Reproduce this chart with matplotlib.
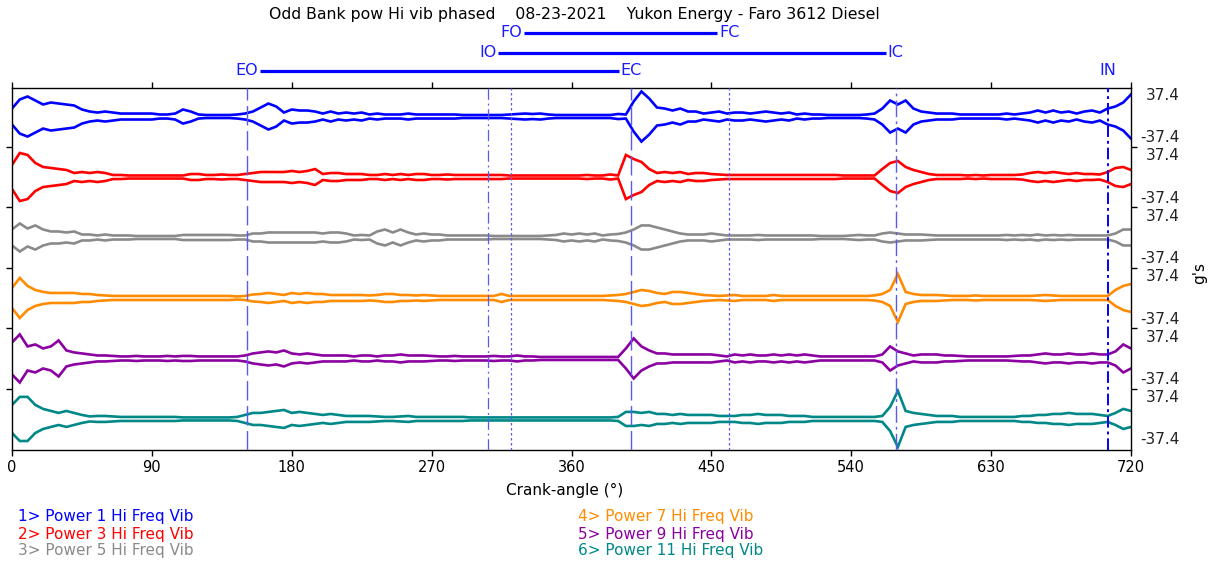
import numpy as np
import matplotlib
matplotlib.use("Agg")
import matplotlib.pyplot as plt
from matplotlib.transforms import blended_transform_factory

plt.rcParams['font.family'] = ['DejaVu Sans']

# ---------------- data ----------------
title = "Odd Bank pow Hi vib phased    08-23-2021    Yukon Energy - Faro 3612 Diesel"
xlabel = "Crank-angle (°)"
ylabel = "g's"
scale_label = 37.4

deg = np.arange(0, 721, 5)

ch1_amp = [14.2, 30.3, 35.6, 28.5, 21.4, 24.9, 23.1, 21.4, 19.6, 12.5,
           8.9, 7.1, 8.9, 7.1, 5.3, 5.3, 5.3, 5.3, 5.3, 3.6,
           3.6, 5.3, 12.5, 8.9, 3.6, 2.7, 2.7, 2.7, 2.7, 3.6,
           5.3, 8.9, 16.0, 23.1, 17.8, 7.1, 12.5, 10.7, 10.7, 8.9,
           5.3, 8.9, 5.3, 7.1, 5.3, 7.1, 3.6, 5.3, 3.6, 3.6,
           3.6, 5.3, 3.6, 3.6, 3.6, 3.6, 3.6, 3.6, 2.7, 2.7,
           2.7, 2.7, 2.7, 2.7, 3.6, 4.5, 5.3, 4.5, 5.3, 3.6,
           2.7, 2.7, 2.7, 2.7, 2.7, 2.7, 2.7, 2.7, 4.5, 3.6,
           26.7, 44.5, 32.0, 16.0, 14.2, 10.7, 14.2, 8.9, 8.9, 5.3,
           7.1, 8.9, 5.3, 7.1, 7.1, 5.3, 7.1, 8.9, 7.1, 5.3,
           7.1, 3.6, 5.3, 3.6, 3.6, 2.7, 2.7, 2.7, 2.7, 2.7,
           3.6, 5.3, 14.2, 28.5, 21.4, 28.5, 14.2, 8.9, 7.1, 5.3,
           5.3, 5.3, 3.6, 3.6, 3.6, 3.6, 3.6, 3.6, 5.3, 3.6,
           5.3, 7.1, 10.7, 7.1, 10.7, 7.1, 8.9, 5.3, 8.9, 10.7,
           7.1, 14.2, 17.8, 24.9, 39.2]

ch2_amp = [21.4, 42.7, 39.2, 24.9, 17.8, 16.0, 14.2, 12.5, 7.1, 8.9,
           7.1, 8.9, 7.1, 3.6, 3.6, 2.7, 2.7, 2.7, 2.7, 2.7,
           2.7, 2.7, 2.7, 5.3, 5.3, 3.6, 3.6, 4.5, 3.6, 3.6,
           5.3, 7.1, 8.9, 8.9, 8.9, 8.9, 10.7, 8.9, 10.7, 14.2,
           5.3, 7.1, 7.1, 5.3, 5.3, 5.3, 3.6, 3.6, 5.3, 3.6,
           5.3, 3.6, 5.3, 5.3, 3.6, 3.6, 4.5, 3.6, 3.6, 3.6,
           3.6, 3.6, 3.6, 3.6, 2.7, 2.7, 2.7, 2.7, 2.7, 2.7,
           2.7, 2.7, 2.7, 2.7, 3.6, 2.7, 2.7, 4.5, 2.7, 39.2,
           32.0, 26.7, 14.2, 7.1, 8.9, 7.1, 8.9, 5.3, 7.1, 7.1,
           5.3, 4.5, 3.6, 3.6, 3.6, 3.6, 3.6, 3.6, 3.6, 3.6,
           3.6, 3.6, 3.6, 3.6, 3.6, 3.6, 3.6, 2.7, 2.7, 2.7,
           2.7, 2.7, 14.2, 24.9, 28.5, 17.8, 12.5, 8.9, 5.3, 3.6,
           3.6, 3.6, 3.6, 2.7, 3.6, 2.7, 3.6, 3.6, 3.6, 3.6,
           4.5, 7.1, 8.9, 7.1, 8.9, 7.1, 5.3, 7.1, 5.3, 5.3,
           4.5, 8.9, 16.0, 17.8, 12.5]

ch3_amp = [14.2, 24.9, 16.0, 21.4, 14.2, 10.7, 10.7, 8.9, 10.7, 5.3,
           5.3, 3.6, 5.3, 3.6, 3.6, 3.6, 2.7, 2.7, 2.7, 2.7,
           2.7, 2.7, 4.5, 4.5, 4.5, 4.5, 4.5, 4.5, 4.5, 3.6,
           3.6, 7.1, 7.1, 8.9, 8.9, 8.9, 8.9, 8.9, 8.9, 8.9,
           7.1, 8.9, 8.9, 7.1, 3.6, 4.5, 3.6, 10.7, 14.2, 8.9,
           14.2, 8.9, 5.3, 7.1, 5.3, 5.3, 3.6, 3.6, 3.6, 3.6,
           3.6, 3.6, 2.7, 2.7, 2.7, 2.7, 2.7, 2.7, 2.7, 3.6,
           4.5, 7.1, 5.3, 7.1, 5.3, 7.1, 3.6, 5.3, 6.2, 8.9,
           14.2, 21.4, 21.4, 17.8, 14.2, 10.7, 7.1, 5.3, 5.3, 5.3,
           7.1, 5.3, 3.6, 3.6, 3.6, 3.6, 4.5, 3.6, 3.6, 3.6,
           3.6, 3.6, 3.6, 3.6, 2.7, 2.7, 2.7, 2.7, 3.6, 4.5,
           3.6, 3.6, 7.1, 8.9, 7.1, 5.3, 5.3, 5.3, 4.5, 3.6,
           3.6, 3.6, 3.6, 3.6, 3.6, 3.6, 3.6, 3.6, 4.5, 3.6,
           4.5, 3.6, 5.3, 3.6, 4.5, 3.6, 4.5, 3.6, 3.6, 3.6,
           3.6, 3.6, 7.1, 14.2, 14.2]

ch4_amp = [17.8, 35.6, 21.4, 14.2, 10.7, 8.9, 8.9, 8.9, 8.9, 7.1,
           7.1, 5.3, 4.5, 3.6, 3.6, 3.6, 3.6, 3.6, 3.6, 3.6,
           3.6, 3.6, 3.6, 3.6, 3.6, 3.6, 3.6, 3.6, 3.6, 2.7,
           3.6, 6.2, 7.1, 8.9, 7.1, 5.3, 8.9, 7.1, 8.9, 7.1,
           7.1, 5.3, 5.3, 5.3, 5.3, 5.3, 4.5, 5.3, 7.1, 7.1,
           5.3, 5.3, 4.5, 5.3, 4.5, 3.6, 3.6, 3.6, 3.6, 3.6,
           3.6, 3.6, 3.6, 7.1, 3.6, 3.6, 3.6, 3.6, 3.6, 3.6,
           3.6, 3.6, 3.6, 3.6, 3.6, 3.6, 3.6, 4.5, 5.3, 7.1,
           10.7, 14.2, 12.5, 8.9, 7.1, 10.7, 10.7, 8.9, 7.1, 5.3,
           4.5, 3.6, 4.5, 5.3, 3.6, 3.6, 3.6, 3.6, 5.3, 3.6,
           3.6, 3.6, 3.6, 3.6, 3.6, 3.6, 3.6, 3.6, 3.6, 3.6,
           3.6, 4.5, 7.1, 14.2, 42.7, 10.7, 7.1, 5.3, 5.3, 5.3,
           4.5, 3.6, 3.6, 3.6, 4.5, 3.6, 3.6, 3.6, 3.6, 3.6,
           3.6, 3.6, 4.5, 5.3, 4.5, 3.6, 3.6, 3.6, 3.6, 3.6,
           3.6, 3.6, 14.2, 21.4, 24.9]

ch5_amp = [28.5, 42.7, 21.4, 24.9, 17.8, 21.4, 32.0, 14.2, 10.7, 8.9,
           7.1, 5.3, 5.3, 4.5, 3.6, 3.6, 4.5, 3.6, 3.6, 3.6,
           4.5, 3.6, 4.5, 4.5, 3.6, 3.6, 3.6, 3.6, 3.6, 3.6,
           5.3, 8.9, 10.7, 12.5, 10.7, 14.2, 8.9, 7.1, 8.9, 7.1,
           5.3, 5.3, 5.3, 5.3, 3.6, 5.3, 5.3, 3.6, 5.3, 5.3,
           7.1, 5.3, 5.3, 5.3, 4.5, 3.6, 3.6, 4.5, 3.6, 3.6,
           3.6, 3.6, 4.5, 3.6, 3.6, 5.3, 3.6, 3.6, 2.7, 2.7,
           2.7, 2.7, 2.7, 2.7, 2.7, 2.7, 2.7, 2.7, 2.7, 17.8,
           35.6, 21.4, 14.2, 8.9, 8.9, 7.1, 7.1, 7.1, 7.1, 7.1,
           7.1, 5.3, 3.6, 7.1, 5.3, 7.1, 5.3, 5.3, 7.1, 5.3,
           7.1, 5.3, 7.1, 5.3, 3.6, 3.6, 3.6, 3.6, 3.6, 3.6,
           3.6, 3.6, 7.1, 21.4, 12.5, 8.9, 5.3, 7.1, 7.1, 7.1,
           5.3, 5.3, 4.5, 3.6, 3.6, 3.6, 3.6, 3.6, 3.6, 4.5,
           5.3, 5.3, 7.1, 8.9, 7.1, 7.1, 8.9, 7.1, 7.1, 8.9,
           7.1, 7.1, 12.5, 24.9, 17.8]

ch6_amp = [24.9, 39.2, 39.2, 24.9, 17.8, 14.2, 10.7, 14.2, 10.7, 7.1,
           4.5, 5.3, 5.3, 4.5, 3.6, 3.6, 3.6, 3.6, 3.6, 3.6,
           3.6, 3.6, 2.7, 2.7, 2.7, 2.7, 2.7, 2.7, 2.7, 3.6,
           7.1, 10.7, 10.7, 12.5, 14.2, 16.0, 10.7, 12.5, 10.7, 8.9,
           7.1, 8.9, 7.1, 5.3, 5.3, 5.3, 5.3, 4.5, 3.6, 3.6,
           4.5, 5.3, 3.6, 3.6, 3.6, 3.6, 3.6, 3.6, 3.6, 2.7,
           2.7, 2.7, 2.7, 2.7, 2.7, 2.7, 2.7, 2.7, 2.7, 2.7,
           2.7, 2.7, 2.7, 2.7, 2.7, 2.7, 2.7, 2.7, 3.6, 12.5,
           12.5, 10.7, 12.5, 8.9, 8.9, 7.1, 8.9, 7.1, 7.1, 7.1,
           7.1, 5.3, 5.3, 5.3, 7.1, 7.1, 8.9, 7.1, 7.1, 7.1,
           5.3, 5.3, 5.3, 3.6, 3.6, 3.6, 3.6, 3.6, 3.6, 3.6,
           3.6, 3.6, 5.3, 21.4, 49.8, 14.2, 10.7, 8.9, 7.1, 5.3,
           5.3, 5.3, 3.6, 3.6, 3.6, 3.6, 3.6, 3.6, 3.6, 3.6,
           5.3, 5.3, 7.1, 7.1, 8.9, 8.9, 10.7, 8.9, 8.9, 8.9,
           7.1, 5.3, 10.7, 17.8, 14.2]

channel_names = ["1> Power 1 Hi Freq Vib", "2> Power 3 Hi Freq Vib",
                 "3> Power 5 Hi Freq Vib", "4> Power 7 Hi Freq Vib",
                 "5> Power 9 Hi Freq Vib", "6> Power 11 Hi Freq Vib"]
channel_amps = [ch1_amp, ch2_amp, ch3_amp, ch4_amp, ch5_amp, ch6_amp]

event_names = ["EO", "IO", "FO", "EC", "FC", "IC", "IN"]
event_deg = [151, 306, 321, 398.5, 461.5, 568.5, 705]
event_pairs = [("FO", "FC"), ("IO", "IC"), ("EO", "EC")]

xticks = list(range(0, 721, 90))

# ---------------- style ----------------
colors = ["#0000FF", "#FF0000", "#8A8A8A", "#FF8C00", "#8A00A0", "#008888"]
ev_style = {
    "EO": dict(ls=(0, (14, 4)), lw=1.0, color="#5a5af0"),
    "IO": dict(ls=(0, (9, 3, 1.5, 3)), lw=0.9, color="#5a5af0"),
    "FO": dict(ls=(0, (2, 2)), lw=0.9, color="#5a5af0"),
    "EC": dict(ls=(0, (14, 4)), lw=1.0, color="#5a5af0"),
    "FC": dict(ls=(0, (2, 2)), lw=0.9, color="#5a5af0"),
    "IC": dict(ls=(0, (12, 3, 2, 3)), lw=1.0, color="#5a5af0"),
    "IN": dict(ls=(0, (6, 2, 1.5, 2)), lw=1.4, color="#0000ff"),
}
row_y = {"FO": 1.152, "FC": 1.152, "IO": 1.097, "IC": 1.097,
         "EO": 1.047, "EC": 1.047, "IN": 1.047}
FS = 11

W, H = 1215, 562
fig = plt.figure(figsize=(W / 100, H / 100), dpi=100)
ax = fig.add_axes([12 / W, 1 - 450 / H, (1131 - 12) / W, (450 - 88) / H])

S = 107.5
centers = [-i * S for i in range(6)]

for amp, c, col in zip(channel_amps, centers, colors):
    a = np.array(amp)
    ax.plot(deg, c + a, color=col, lw=1.9, solid_joinstyle='miter', zorder=2)
    ax.plot(deg, c - a, color=col, lw=1.9, solid_joinstyle='miter', zorder=2)

ax.set_xlim(0, 720)
ax.set_ylim(-5 * S - 55.2, 50.7)

for name, d in zip(event_names, event_deg):
    ax.axvline(d, zorder=3, **ev_style[name])

# ticks
bounds = [-(i + 0.5) * S for i in range(5)]
ax.set_yticks(bounds)
ax.set_yticklabels([])
ax.set_xticks(xticks)
ax.set_xticklabels([str(t) for t in xticks], fontsize=10.5)
ax.tick_params(axis='both', direction='out', length=4, width=1,
               top=True, right=True, labeltop=False, labelright=False, pad=3)
for sp in ax.spines.values():
    sp.set_linewidth(1.0)

trans_r = blended_transform_factory(ax.transAxes, ax.transData)
xr = (1180 - 12) / (1131 - 12)
for c in centers:
    ax.text(xr, c + scale_label, f"{scale_label}", transform=trans_r,
            ha='right', va='center', fontsize=FS, color='#222222')
    ax.text(xr, c - scale_label, f"{-scale_label}", transform=trans_r,
            ha='right', va='center', fontsize=FS, color='#222222')

fig.text(1200 / W, 1 - 273 / H, ylabel, rotation=90, ha='center', va='center', fontsize=FS)
fig.text(565 / W, 1 - 490 / H, xlabel, ha='center', va='center', fontsize=FS)
fig.text(574 / W, 1 - 15 / H, title, ha='center', va='center', fontsize=11.3)

# event labels on top
trans_t = blended_transform_factory(ax.transData, ax.transAxes)
ev_text = {}
for name, d in zip(event_names, event_deg):
    ev_text[name] = ax.text(d, row_y[name], name, transform=trans_t, ha='center',
                            va='center', fontsize=11.5, color='#1a1aff', clip_on=False)

fig.canvas.draw()
renderer = fig.canvas.get_renderer()
inv = ax.transData.inverted()
for a_name, b_name in event_pairs:
    ba = ev_text[a_name].get_window_extent(renderer)
    bb = ev_text[b_name].get_window_extent(renderer)
    x0 = inv.transform((ba.x1 + 2, 0))[0]
    x1 = inv.transform((bb.x0 - 2, 0))[0]
    ax.plot([x0, x1], [row_y[a_name]] * 2, transform=trans_t, color='#0000ff',
            lw=2.3, clip_on=False, solid_capstyle='butt')

# legend as coloured text
leg_x = [18, 578]
leg_y = [517, 534, 551]
for i, (name, col) in enumerate(zip(channel_names, colors)):
    colx = leg_x[i // 3]
    rowy = leg_y[i % 3]
    fig.text(colx / W, 1 - rowy / H, name, ha='left', va='center', fontsize=FS, color=col)

fig.savefig("out.png", dpi=100)
